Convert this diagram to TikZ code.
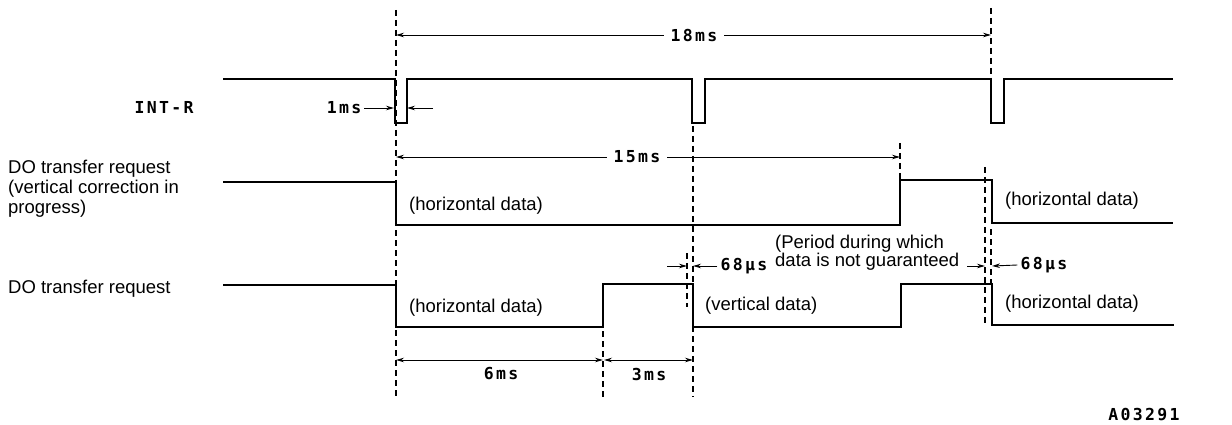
\documentclass[tikz,border=0pt]{standalone}
\usepackage{fontspec}
\setmainfont{Liberation Sans}
\newfontfamily\plotfont{DejaVu Sans Mono}[LetterSpace=14]
\usetikzlibrary{arrows.meta}
\tikzset{
  sig/.style={line width=2pt, line join=miter},
  dimarrow/.style={line width=0.9pt, -{Stealth[length=8pt,width=4.5pt]}},
  dimboth/.style={line width=0.9pt, {Stealth[length=8pt,width=4.5pt]}-{Stealth[length=8pt,width=4.5pt]}},
  guide/.style={line width=1.2pt, dash pattern=on 6pt off 4pt},
  lab/.style={font=\fontsize{18.5}{20}\selectfont, inner sep=0pt},
  plotlab/.style={font=\plotfont\bfseries\fontsize{16.5}{16.5}\selectfont, inner sep=0pt},
}
\begin{document}
\begin{tikzpicture}[x=1pt,y=-1pt]
\useasboundingbox (0,0) rectangle (1232,425);
\fill[white] (0,0) rectangle (1232,425);

% ---- guide (dashed) lines ----
\coordinate (g1t) at (396,10);   \coordinate (g1b) at (396,398);
\coordinate (g2t) at (991,8);    \coordinate (g2b) at (991,79);
\coordinate (g3t) at (900,143);  \coordinate (g3b) at (900,181);
\coordinate (g4t) at (693,126);  \coordinate (g4b) at (693,397);
\coordinate (g5t) at (687,253);  \coordinate (g5b) at (687,307);
\coordinate (g6t) at (603,331);  \coordinate (g6b) at (603,397);
\coordinate (g7t) at (985,167);  \coordinate (g7b) at (985,325);
\coordinate (g8t) at (991,229);  \coordinate (g8b) at (991,284);
\draw[guide] (g1t) -- (g1b);
\draw[guide] (g2t) -- (g2b);
\draw[guide] (g3t) -- (g3b);
\draw[guide] (g4t) -- (g4b);
\draw[guide] (g5t) -- (g5b);
\draw[guide] (g6t) -- (g6b);
\draw[guide] (g7t) -- (g7b);
\draw[guide] (g8t) -- (g8b);

% ---- signals ----
% INT-R
\draw[sig] (223,79) -- (395,79) -- (395,123) -- (407,123) -- (407,79)
  -- (692,79) -- (692,123) -- (705,123) -- (705,79)
  -- (991,79) -- (991,123) -- (1004,123) -- (1004,79) -- (1173,79);
% DO transfer request (vertical correction in progress)
\draw[sig] (223,182) -- (396,182) -- (396,225) -- (900,225) -- (900,180)
  -- (992,180) -- (992,223) -- (1173,223);
% DO transfer request
\draw[sig] (223,285) -- (396,285) -- (396,327) -- (603,327) -- (603,284)
  -- (693,284) -- (693,327) -- (901,327) -- (901,284) -- (992,284)
  -- (992,325) -- (1174,325);

% ---- left labels ----
\node[plotlab] (intr) at (164,107) {INT-R};
\node[lab, anchor=north west, align=left] (do1) at (8,159.5)
  {DO transfer request\\(vertical correction in\\progress)};
\node[lab, anchor=base west] (do2) at (8,293) {DO transfer request};

% ---- data labels ----
\node[lab, anchor=base west] (h1) at (409,211) {(horizontal data)};
\node[lab, anchor=base west] (h2) at (1005,205) {(horizontal data)};
\node[lab, anchor=base west] (h3) at (409,312) {(horizontal data)};
\node[lab, anchor=base west] (v1) at (705,310) {(vertical data)};
\node[lab, anchor=base west] (p1) at (775,248) {(Period during which};
\node[lab, anchor=base west] (p2) at (775,266) {data is not guaranteed};
\node[lab, anchor=base west] (h4) at (1005,308) {(horizontal data)};

% ---- 18ms ----
\coordinate (a18l) at (396,35);
\coordinate (a18r) at (991,35);
\draw[dimboth] (a18l) -- (a18r);
\node[plotlab, fill=white, inner xsep=7pt, inner ysep=2pt] (t18) at (694,35) {18ms};

% ---- 15ms ----
\coordinate (a15l) at (396,157);
\coordinate (a15r) at (900,157);
\draw[dimboth] (a15l) -- (a15r);
\node[plotlab, fill=white, inner xsep=7pt, inner ysep=2pt] (t15) at (637,157) {15ms};

% ---- 1ms ----
\node[plotlab] (t1) at (344,108) {1ms};
\coordinate (a1l) at (394,108);
\coordinate (a1rs) at (433,108);
\coordinate (a1r) at (407,108);
\draw[dimarrow] ([xshift=3pt]t1.east) -- (a1l);
\draw[dimarrow] (a1rs) -- (a1r);

% ---- 68 us (left) ----
\node[plotlab] (t68a) at (744,266) {68µs};
\coordinate (b1s) at (667,266);
\coordinate (b1e) at (687,266);
\coordinate (b2e) at (693,266);
\draw[dimarrow] (b1s) -- (b1e);
\draw[dimarrow] ([xshift=-3pt]t68a.west) -- (b2e);

% ---- 68 us (right) ----
\node[plotlab] (t68b) at (1044,265) {68µs};
\coordinate (c1s) at (967,266);
\coordinate (c1e) at (985,266);
\coordinate (c2e) at (992,266);
\draw[dimarrow] (c1s) -- (c1e);
\draw[dimarrow] ([xshift=-3pt]t68b.west) -- (c2e);

% ---- 6ms / 3ms ----
\coordinate (d6l) at (396,360);
\coordinate (d6r) at (603,360);
\coordinate (d3l) at (604,360);
\coordinate (d3r) at (693,360);
\draw[dimboth] (d6l) -- (d6r);
\draw[dimboth] (d3l) -- (d3r);
\node[plotlab] (t6) at (501,374) {6ms};
\node[plotlab] (t3) at (649,374) {3ms};

% ---- figure code ----
\node[plotlab] (code) at (1144,415) {A03291};
\end{tikzpicture}
\end{document}
